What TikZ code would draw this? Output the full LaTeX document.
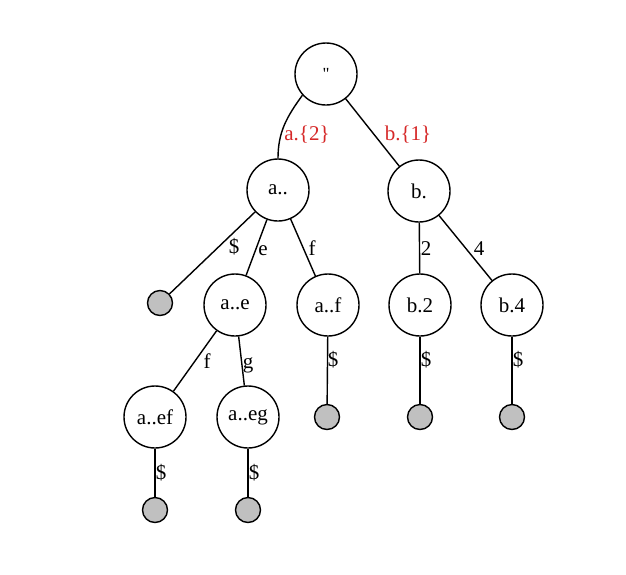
\documentclass[tikz,border=0pt]{standalone}
\usepackage{fontspec}
\setmainfont{Liberation Serif}
\newfontfamily\qfont{Liberation Serif}[Ligatures=TeXOff]
\definecolor{leafgray}{RGB}{192,192,192}
\definecolor{labred}{RGB}{214,40,40}
\begin{document}
\begin{tikzpicture}[x=1pt,y=-1pt,
  font=\fontsize{21}{25}\selectfont,
  tnode/.style={circle,draw,line width=1.4pt,minimum size=62pt,inner sep=0pt},
  leaf/.style={circle,draw,line width=1.4pt,fill=leafgray,minimum size=25pt,inner sep=0pt},
  edge/.style={line width=1.4pt},
  elab/.style={anchor=base,inner sep=0pt},
  rlab/.style={anchor=base,inner sep=0pt,text=labred}]
\path[use as bounding box,fill=white] (0,0) rectangle (626,574);
% nodes
\node[tnode] (root) at (326,74) {\qfont\fontsize{17}{20}\selectfont\raisebox{-2pt}{"}};
\node[tnode] (a) at (278,190) {a..};
\node[tnode] (b) at (419,191) {b.};
\node[leaf] (l1) at (160,303) {};
\node[tnode] (ae) at (235,305) {a..e};
\node[tnode] (af) at (328,305) {a..f};
\node[tnode] (b2) at (420,305) {b.2};
\node[tnode] (b4) at (512,305) {b.4};
\node[tnode] (aef) at (155,417) {a..ef};
\node[tnode] (aeg) at (248,417) {a..eg};
\node[leaf] (l2) at (327,417) {};
\node[leaf] (l3) at (420,417) {};
\node[leaf] (l4) at (512,417) {};
\node[leaf] (l5) at (155,510) {};
\node[leaf] (l6) at (248,510) {};
% edges
\draw[edge] (root.222) to[out=234,in=90] (a.north);
\draw[edge] (root) -- (b);
\draw[edge] (a) -- (l1);
\draw[edge] (a) -- (ae);
\draw[edge] (a) -- (af);
\draw[edge] (b) -- (b2);
\draw[edge] (b) -- (b4);
\draw[edge] (ae) -- (aef);
\draw[edge] (ae) -- (aeg);
\draw[edge] (af) -- (l2);
\draw[edge] (b2) -- (l3);
\draw[edge] (b4) -- (l4);
\draw[edge] (aef) -- (l5);
\draw[edge] (aeg) -- (l6);
% labels
\node[rlab] (la) at (307,140) {a.\{2\}};
\node[rlab] (lb) at (408,140) {b.\{1\}};
\node[elab] (ld1) at (234,253) {\$};
\node[elab] (le) at (263,255) {e};
\node[elab] (lf) at (312,255) {f};
\node[elab] (l2t) at (426,255) {2};
\node[elab] (l4t) at (479,255) {4};
\node[elab] (lf2) at (207,368) {f};
\node[elab] (lg) at (248,368) {g};
\node[elab] (ld2) at (333,366) {\$};
\node[elab] (ld3) at (426,366) {\$};
\node[elab] (ld4) at (518,366) {\$};
\node[elab] (ld5) at (161,479) {\$};
\node[elab] (ld6) at (254,479) {\$};
\end{tikzpicture}
\end{document}
